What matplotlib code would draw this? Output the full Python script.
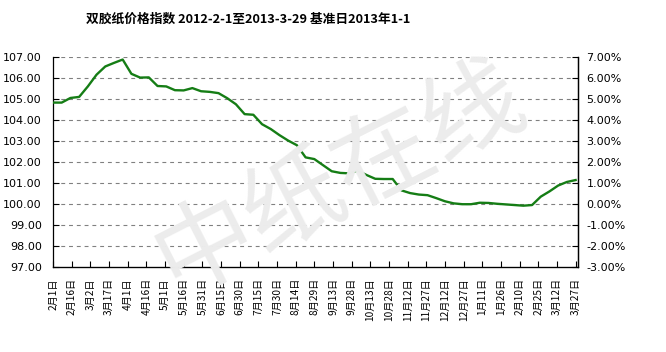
import matplotlib
matplotlib.use("Agg")
import matplotlib.pyplot as plt
import numpy as np
import pandas as pd

plt.rcParams['font.family'] = ['Noto Sans CJK SC', 'DejaVu Sans']

title = "双胶纸价格指数 2012-2-1至2013-3-29 基准日2013年1-1"

start_date = "2012-02-01"
end_date = "2013-03-29"

index_values = [
    104.83, 104.83, 105.05, 105.10, 105.60, 106.16, 106.55, 106.72, 106.88,
    106.20, 106.02, 106.03, 105.62, 105.60, 105.42, 105.41, 105.52, 105.37,
    105.34, 105.28, 105.04, 104.75, 104.28, 104.25, 103.80, 103.57, 103.28,
    103.02, 102.80, 102.22, 102.14, 101.85, 101.56, 101.48, 101.46, 101.59,
    101.38, 101.20, 101.19, 101.19, 100.65, 100.52, 100.45, 100.42, 100.28,
    100.13, 100.03, 99.99, 99.99, 100.06, 100.05, 100.01, 99.98, 99.95,
    99.92, 99.95, 100.35, 100.60, 100.88, 101.05, 101.14,
]

tick_labels = [
    "2月1日", "2月16日", "3月2日", "3月17日", "4月1日", "4月16日", "5月1日",
    "5月16日", "5月31日", "6月15日", "6月30日", "7月15日", "7月30日", "8月14日",
    "8月29日", "9月13日", "9月28日", "10月13日", "10月28日", "11月12日",
    "11月27日", "12月12日", "12月27日", "1月11日", "1月26日", "2月10日",
    "2月25日", "3月12日", "3月27日",
]

left_ticks = [97, 98, 99, 100, 101, 102, 103, 104, 105, 106, 107]
right_ticks = [-3, -2, -1, 0, 1, 2, 3, 4, 5, 6, 7]

dates = pd.date_range(start_date, periods=len(index_values), freq="7D")
tick_dates = pd.date_range(start_date, periods=len(tick_labels), freq="15D")

fig = plt.figure(figsize=(6.66, 3.52), dpi=100)
fig.patch.set_facecolor("white")

# watermark
fig.text(0.51, 0.49, "中纸在线", fontsize=72, color="#ececec", rotation=27,
         ha="center", va="center", zorder=0)

ax = fig.add_axes([0.0796, 0.2415, 0.868 - 0.0796, 0.838 - 0.2415])
ax.patch.set_alpha(0)
ax.plot(dates, index_values, color="#157d15", linewidth=1.7, zorder=3)

ax.set_xlim(pd.Timestamp(start_date), pd.Timestamp(end_date))
ax.set_ylim(97, 107)
ax.set_yticks(left_ticks)
ax.set_yticklabels([f"{v:.2f}" for v in left_ticks], fontsize=8, family="DejaVu Sans")
ax.set_xticks(tick_dates)
ax.set_xticklabels(tick_labels, rotation=90, fontsize=7.3, va="top", ha="center")
ax.tick_params(axis="x", direction="in", length=4, pad=8, width=0.8)
ax.tick_params(axis="y", direction="in", length=4, pad=8, width=0.8)

for v in left_ticks[1:]:
    ax.axhline(v, color="#808080", linewidth=0.8, linestyle=(0, (3.5, 3.5)), zorder=1)

ax.spines["top"].set_visible(False)
for s in ["left", "bottom", "right"]:
    ax.spines[s].set_linewidth(0.9)
    ax.spines[s].set_color("black")

ax2 = ax.twinx()
ax2.set_ylim(-3, 7)
ax2.set_yticks(right_ticks)
ax2.set_yticklabels([f"{v:.2f}%" for v in right_ticks], fontsize=8, family="DejaVu Sans")
ax2.tick_params(axis="y", direction="in", length=4, pad=6, width=0.8)
ax2.spines["top"].set_visible(False)
ax2.spines["left"].set_visible(False)
ax2.spines["right"].set_linewidth(0.9)

fig.text(0.372, 0.945, title, fontsize=9.2, fontweight="bold", ha="center", va="center")

fig.savefig("out.png", dpi=100)
